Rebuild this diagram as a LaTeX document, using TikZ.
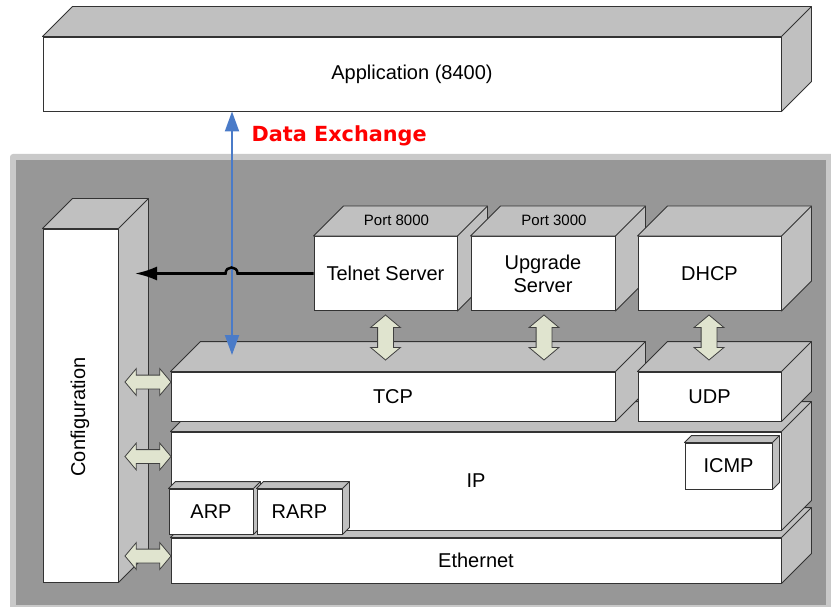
\documentclass[tikz,border=0pt]{standalone}
\usepackage{fontspec}
\setmainfont{Liberation Sans}
\newfontfamily\dxfont{DejaVu Sans}
\usetikzlibrary{shapes.arrows,arrows.meta}
\definecolor{panel}{HTML}{979797}
\definecolor{rim}{HTML}{C9C9C9}
\definecolor{facegray}{HTML}{C0C0C0}
\definecolor{fatfill}{HTML}{E0E4CF}
\definecolor{xblue}{HTML}{4A7BC8}
% top and right faces of a box node
\newcommand{\sides}[2]{%
  \filldraw[side] (#1.north west) -- ([shift={(#2,-#2)}]#1.north west)
    -- ([shift={(#2,-#2)}]#1.north east) -- ([shift={(#2,-#2)}]#1.south east)
    -- (#1.south east) -- (#1.north east) -- cycle;
  \draw[side] (#1.north east) -- ([shift={(#2,-#2)}]#1.north east);}
\begin{document}
\begin{tikzpicture}[x=1pt,y=-1pt,
    front/.style={draw=black!80,fill=white,line width=0.9pt,inner sep=0pt,align=center,font=\fontsize{20}{23}\selectfont},
    side/.style={draw=black!80,fill=facegray,line width=0.9pt,line join=round},
    port/.style={font=\fontsize{15}{18}\selectfont},
    fatarrow/.style={double arrow,draw=black!75,fill=fatfill,line width=0.8pt,inner xsep=0pt,
      double arrow tip angle=100}]
    \useasboundingbox (0,0) rectangle (831,607);
    \fill[rim,rounded corners=3pt] (10,154) rectangle (845,620);
    \fill[panel] (16,160) rectangle (826,605);

    \node[front,minimum width=738pt,minimum height=74pt] (app) at (412,74) {Application (8400)};
    \sides{app}{30}
    \node[front,minimum width=75pt,minimum height=353pt] (cfg) at (80.5,405.5) {};
    \sides{cfg}{30}
    \node[rotate=90,font=\fontsize{20}{23}\selectfont] (cfglbl) at (80,417) {Configuration};

    \node[front,minimum width=610pt,minimum height=45pt] (eth) at (476,560.5) {Ethernet};
    \sides{eth}{30}
    \node[front,minimum width=610pt,minimum height=98pt] (ip) at (476,481) {IP};
    \sides{ip}{30}
    \node[front,minimum width=84pt,minimum height=45pt] (arp) at (211,511.5) {ARP};
    \sides{arp}{7}
    \node[front,minimum width=85pt,minimum height=45pt] (rarp) at (299.5,511.5) {RARP};
    \sides{rarp}{7}
    \node[front,minimum width=87pt,minimum height=46pt] (icmp) at (728.5,466) {ICMP};
    \sides{icmp}{7}
    \node[front,minimum width=444pt,minimum height=49pt] (tcp) at (393,396.5) {TCP};
    \sides{tcp}{30}
    \node[front,minimum width=143pt,minimum height=49pt] (udp) at (709.5,396.5) {UDP};
    \sides{udp}{30}
    \node[front,minimum width=143pt,minimum height=74pt] (telnet) at (385.5,273.5) {Telnet Server};
    \sides{telnet}{30}
    \node[front,minimum width=144pt,minimum height=74pt] (upgrade) at (543,273.5) {Upgrade\\Server};
    \sides{upgrade}{30}
    \node[front,minimum width=143pt,minimum height=74pt] (dhcp) at (709.5,273.5) {DHCP};
    \sides{dhcp}{30}
    \node[port] (p8000) at ([shift={(11,-16)}]telnet.north) {Port 8000};
    \node[port] (p3000) at ([shift={(11,-16)}]upgrade.north) {Port 3000};

    \node[fatarrow,rotate=90,minimum height=45pt,inner ysep=7.5pt,double arrow head extend=7pt] (a1) at (385.5,337.5) {};
    \node[fatarrow,rotate=90,minimum height=45pt,inner ysep=7.5pt,double arrow head extend=7pt] (a2) at (544,337.5) {};
    \node[fatarrow,rotate=90,minimum height=45pt,inner ysep=7.5pt,double arrow head extend=7pt] (a3) at (709,337.5) {};
    \node[fatarrow,minimum height=46pt,inner ysep=6.5pt,double arrow head extend=6.5pt] (c1) at (148,382) {};
    \node[fatarrow,minimum height=46pt,inner ysep=6.5pt,double arrow head extend=6.5pt] (c2) at (148,456.5) {};
    \node[fatarrow,minimum height=46pt,inner ysep=6.5pt,double arrow head extend=6.5pt] (c3) at (148,556) {};

    \coordinate (dxend) at (232,355);
    \draw[xblue,line width=2pt,{Triangle[length=20pt,width=14pt]}-{Triangle[length=20pt,width=14pt]}]
      (dxend |- app.south) -- (dxend);
    \node[anchor=west,text=red,font=\dxfont\bfseries\fontsize{20.8}{24}\selectfont] (dxlbl) at (248,136) {Data Exchange};

    \coordinate (cfgin) at (135,273.5);
    \draw[line width=2.5pt,-{Latex[length=22pt,width=14pt]}] (telnet.west) -- ([xshift=-76pt]telnet.west)
      .. controls +(0,-8) and +(0,-8) .. ([xshift=-88pt]telnet.west) -- (cfgin);
\end{tikzpicture}
\end{document}
